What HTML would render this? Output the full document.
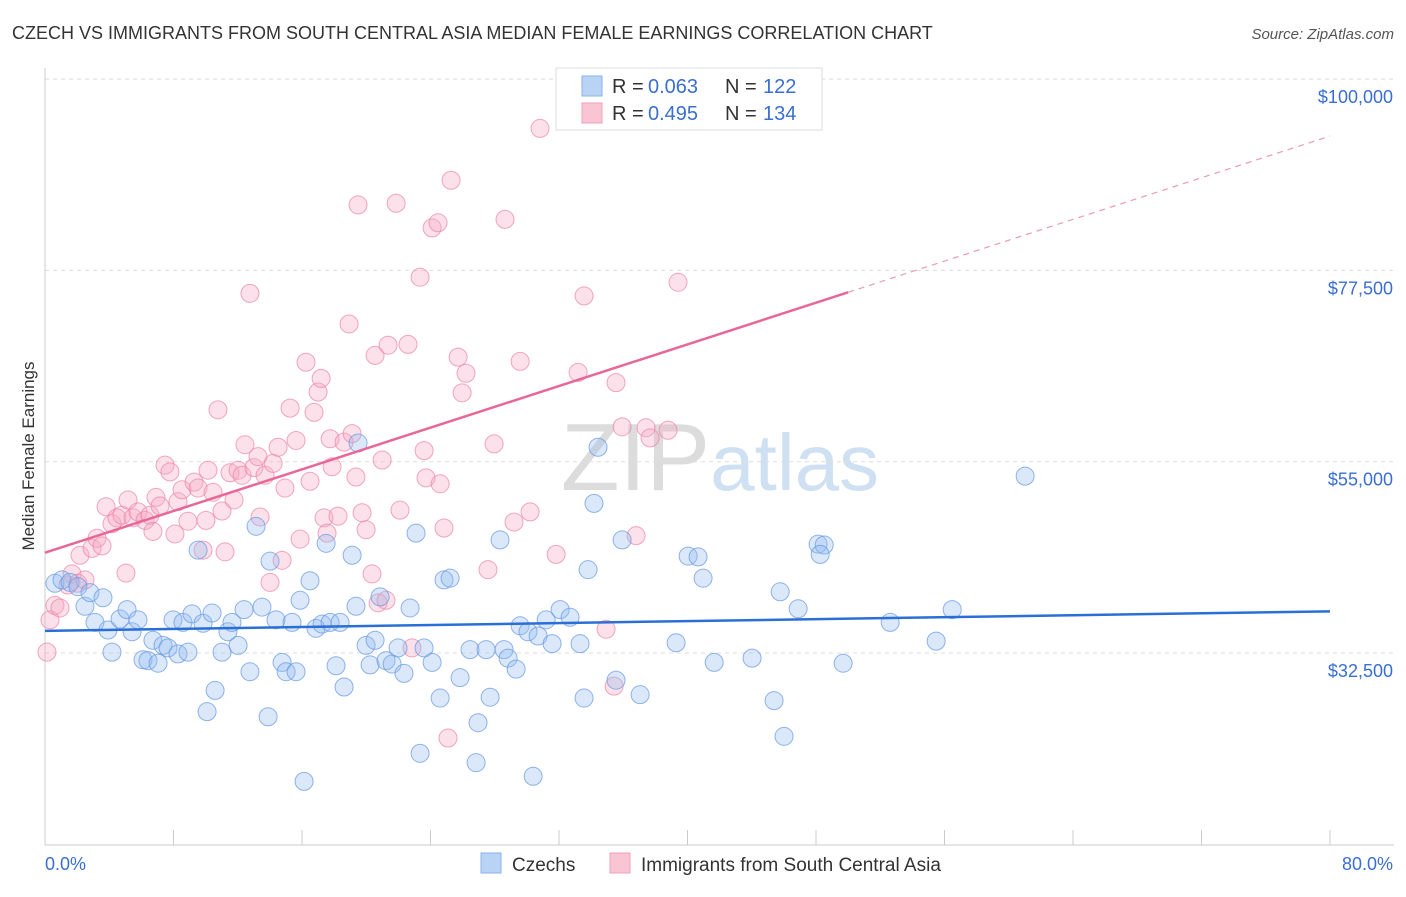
<!DOCTYPE html>
<html><head><meta charset="utf-8"><style>
body{margin:0;background:#fff;font-family:"Liberation Sans",sans-serif}
svg text{font-family:"Liberation Sans",sans-serif}
</style></head><body>
<svg id="chart" width="1406" height="892" xmlns="http://www.w3.org/2000/svg">
<text x="12" y="39" font-size="18" fill="#333">CZECH VS IMMIGRANTS FROM SOUTH CENTRAL ASIA MEDIAN FEMALE EARNINGS CORRELATION CHART</text>
<text x="1394" y="39" font-size="15" fill="#555" font-style="italic" text-anchor="end">Source: ZipAtlas.com</text>
<text x="720" y="490" font-size="96" fill="#e4e4e4" text-anchor="middle" font-family="Liberation Serif"><tspan fill="#dcdcdc">ZIP</tspan><tspan fill="#cfe0f3" font-family="Liberation Sans" font-size="80">atlas</tspan></text>
<text x="34" y="456" font-size="17" fill="#333" text-anchor="middle" transform="rotate(-90 34 456)">Median Female Earnings</text>
<g id="grid"></g><g id="axes"></g><g id="marks"></g><g id="trends"></g>
<g>
<rect x="556" y="68" width="266" height="62" fill="#fff" stroke="#ddd"/>
<rect x="582" y="76" width="20" height="20" fill="#b9d3f5" stroke="#8ab2ea"/>
<text x="612" y="93" font-size="20" fill="#333">R =</text>
<text x="648" y="93" font-size="20" fill="#3a6fd0">0.063</text>
<text x="725" y="93" font-size="20" fill="#333">N =</text>
<text x="763" y="93" font-size="20" fill="#3a6fd0">122</text>
<rect x="582" y="103" width="20" height="20" fill="#f9c5d4" stroke="#f0a0ba"/>
<text x="612" y="120" font-size="20" fill="#333">R =</text>
<text x="648" y="120" font-size="20" fill="#3a6fd0">0.495</text>
<text x="725" y="120" font-size="20" fill="#333">N =</text>
<text x="763" y="120" font-size="20" fill="#3a6fd0">134</text>
</g>
<g>
<rect x="481" y="853" width="20" height="20" fill="#b9d3f5" stroke="#8ab2ea"/>
<text x="512" y="871" font-size="19" fill="#333">Czechs</text>
<rect x="610" y="853" width="20" height="20" fill="#f9c5d4" stroke="#f0a0ba"/>
<text x="641" y="871" font-size="19" fill="#333">Immigrants from South Central Asia</text>
</g>
</svg>
<script>
const yTicks=[32500,55000,77500,100000];
const yTickLabels=["$32,500","$55,000","$77,500","$100,000"];
const xTickValues=[0,8,16,24,32,40,48,56,64,72,80];
const blueX=[0.62,1.06,1.56,2.05,2.49,2.80,3.11,3.61,3.92,4.17,4.67,5.11,5.42,5.79,6.10,6.41,6.72,7.04,7.35,7.66,7.97,8.28,8.59,8.90,9.15,9.53,9.84,10.09,10.40,10.59,11.02,11.39,11.64,12.02,12.39,12.76,13.14,13.51,13.89,14.01,14.38,14.76,15.01,15.38,15.63,15.88,16.13,16.50,16.87,17.25,17.50,17.75,18.12,18.37,18.62,19.12,19.36,19.49,19.99,20.24,20.55,20.86,21.23,21.61,21.98,22.35,22.73,23.10,23.35,23.60,24.10,24.60,24.84,25.22,25.84,26.46,26.84,26.96,27.46,27.71,28.33,28.58,28.83,29.33,29.58,30.07,30.39,30.70,31.20,31.57,32.07,32.69,33.31,33.56,33.81,34.18,34.43,35.55,35.93,37.05,39.29,40.04,40.66,40.97,41.66,44.02,45.39,45.77,46.01,46.89,48.13,48.51,48.26,49.69,52.62,55.48,56.48,61.02];
const blueY=[40.7,41.1,40.8,40.3,38.0,39.6,36.1,39.0,35.2,32.6,36.5,37.6,35.0,36.4,31.7,31.6,34.0,31.3,33.4,33.1,36.4,32.4,36.1,32.6,37.1,44.6,36.0,25.6,37.2,28.1,32.6,35.0,36.1,33.4,37.6,30.3,47.4,37.9,25.0,43.3,36.4,31.4,30.3,36.1,30.3,38.7,17.4,41.0,35.4,35.9,45.4,36.1,31.0,36.1,28.5,44.0,38.0,57.2,33.4,31.1,34.0,39.1,31.6,31.2,33.1,30.1,37.8,46.6,20.7,33.1,31.4,27.2,41.1,41.3,29.6,32.9,19.6,24.3,32.9,27.3,45.8,32.9,31.9,30.6,35.7,35.0,18.0,34.5,36.4,33.6,37.6,36.7,33.6,27.2,42.3,50.1,56.7,29.3,45.8,27.6,33.7,43.9,43.8,41.3,31.4,31.9,26.9,39.7,22.7,37.7,45.3,45.2,44.1,31.3,36.1,33.9,37.6,53.3];
const pinkX=[0.12,0.31,0.62,0.93,1.43,1.68,2.05,2.18,2.49,2.93,3.24,3.55,3.80,4.17,4.48,4.79,5.04,5.17,5.48,5.79,6.23,6.54,6.72,6.91,7.16,7.47,7.78,8.09,8.28,8.53,8.90,9.28,9.53,9.84,10.02,10.15,10.46,10.77,11.02,11.21,11.52,11.77,12.02,12.27,12.45,12.76,13.01,13.26,13.39,13.70,14.01,14.20,14.51,14.76,14.94,15.26,15.63,15.88,16.25,16.50,16.75,17.00,17.19,17.37,17.56,17.75,17.87,18.24,18.62,18.93,19.12,19.36,19.49,19.74,19.99,20.36,20.55,20.74,20.99,21.23,21.36,21.86,22.10,22.60,22.85,23.35,23.60,23.72,24.10,24.47,24.60,24.84,25.09,25.28,25.72,25.97,26.21,27.58,27.96,28.64,29.20,29.58,30.20,30.82,31.82,33.19,33.56,34.93,35.55,35.43,35.93,36.30,36.80,37.42,37.67,38.79,39.41];
const pinkY=[32.6,36.4,38.1,37.8,40.5,41.8,40.7,44.0,41.1,44.8,46.0,45.1,49.7,47.7,48.4,48.7,41.9,50.5,48.4,49.1,48.1,48.7,46.8,50.8,49.8,54.6,53.8,46.5,50.3,51.7,48.0,52.6,51.9,44.6,48.1,54.0,51.4,61.1,49.2,44.4,53.7,50.5,54.0,53.4,57.0,74.8,54.3,55.6,48.5,53.4,40.8,54.8,56.7,43.4,51.9,61.3,57.5,45.9,66.7,52.7,60.8,63.2,64.8,48.4,46.6,57.7,54.4,48.6,57.3,71.2,58.3,53.2,85.2,49.0,47.0,41.8,67.5,38.4,55.2,38.7,68.7,85.4,49.3,68.8,33.1,76.7,56.3,53.1,82.5,83.1,52.4,47.2,22.5,88.1,67.3,63.1,65.4,42.3,57.1,83.5,47.9,66.8,49.1,94.2,44.1,65.5,74.5,35.3,64.3,28.6,59.1,96.4,46.3,59.0,57.8,58.7,76.1];
const blueTrend=[35.1,37.4];
const pinkTrend=[44.3,93.3];
const NS="http://www.w3.org/2000/svg";
const X=p=>45+p*1285/80;
const Y=k=>653-(k-32.5)*191.3/22.5;
function mk(tag,attrs,parent){const e=document.createElementNS(NS,tag);for(const k in attrs)e.setAttribute(k,attrs[k]);document.getElementById(parent).appendChild(e);return e;}
yTicks.forEach((v,i)=>{
 const y=Y(v/1000);
 const g=mk('line',{x1:45,x2:1394,y1:y,y2:y,stroke:'#ddd','stroke-dasharray':'4,4'},'grid');
 
 
 const t=mk('text',{x:1393,y:y+24,'font-size':18,fill:'#3a6fd0','text-anchor':'end'},'axes');
 t.textContent=yTickLabels[i];
 
 
});
const topGrid=mk('line',{x1:45,x2:1394,y1:79,y2:79,stroke:'#ddd','stroke-dasharray':'4,4'},'grid');


const xa=mk('line',{x1:45,x2:1394,y1:845,y2:845,stroke:'#ccc'},'axes');


const ya=mk('line',{x1:45,x2:45,y1:68,y2:845,stroke:'#ccc'},'axes');


xTickValues.forEach(v=>{
 const t=mk('line',{x1:X(v),x2:X(v),y1:830,y2:845,stroke:'#ccc'},'axes');
 
 
});
const xl0=mk('text',{x:45,y:870,'font-size':18,fill:'#3a6fd0'},'axes');xl0.textContent=xTickValues[0].toFixed(1)+'%';


const xl1=mk('text',{x:1393,y:870,'font-size':18,fill:'#3a6fd0','text-anchor':'end'},'axes');xl1.textContent=xTickValues[xTickValues.length-1].toFixed(1)+'%';


pinkX.forEach((x,i)=>{
 const c=mk('circle',{cx:X(x),cy:Y(pinkY[i]),r:9,fill:'rgba(245,170,195,0.35)',stroke:'rgba(236,130,165,0.7)','stroke-width':1},'marks');
 
 
});
blueX.forEach((x,i)=>{
 const c=mk('circle',{cx:X(x),cy:Y(blueY[i]),r:9,fill:'rgba(150,190,240,0.35)',stroke:'rgba(100,150,225,0.7)','stroke-width':1},'marks');
 
 
});
const bt=mk('line',{x1:X(0),y1:Y(blueTrend[0]),x2:X(80),y2:Y(blueTrend[1]),stroke:'#2a6fd6','stroke-width':2.5},'trends');


const pm=v=>pinkTrend[0]+(pinkTrend[1]-pinkTrend[0])*v/80;
const pt=mk('line',{x1:X(0),y1:Y(pm(0)),x2:X(50),y2:Y(pm(50)),stroke:'#e8679a','stroke-width':2.5},'trends');


const pd=mk('line',{x1:X(50),y1:Y(pm(50)),x2:X(80),y2:Y(pm(80)),stroke:'#eb9ab8','stroke-width':1.2,'stroke-dasharray':'6,5'},'trends');


</script>
</body></html>
